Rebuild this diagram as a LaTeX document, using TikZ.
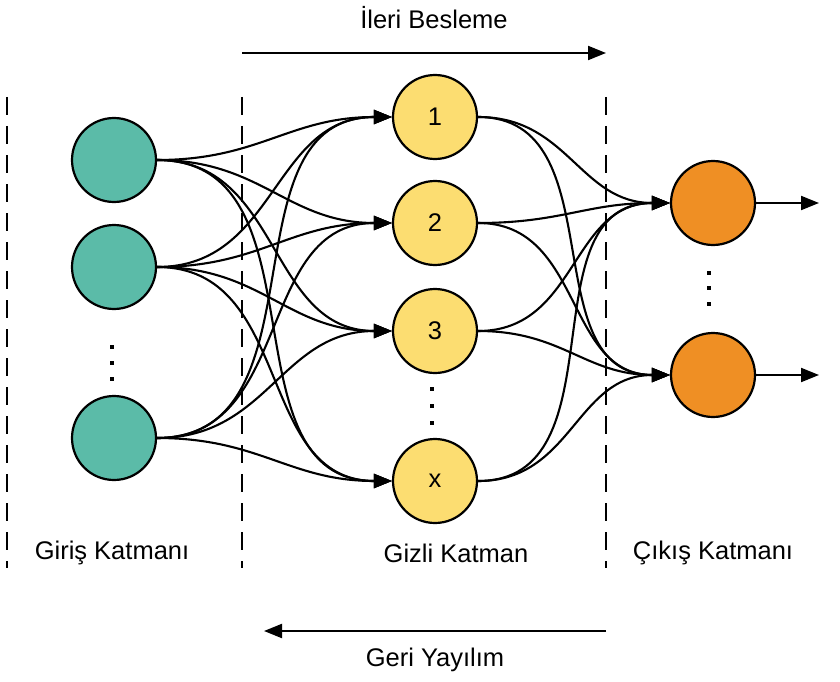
\documentclass[tikz,border=0pt]{standalone}
\usepackage{fontspec}
\setmainfont{Liberation Sans}
\usetikzlibrary{arrows.meta}
\definecolor{inC}{HTML}{5BBBA8}
\definecolor{hidC}{HTML}{FCDD71}
\definecolor{outC}{HTML}{EF8F24}
\begin{document}
\begin{tikzpicture}[x=1pt,y=-1pt,
  every node/.style={font=\fontsize{25.5}{30}\selectfont},
  neuron/.style={circle,draw=black,line width=2.2pt,minimum size=84pt,inner sep=0pt},
  inN/.style={neuron,fill=inC},
  hidN/.style={neuron,fill=hidC},
  outN/.style={neuron,fill=outC},
  conn/.style={line width=2.1pt,-{Triangle[length=18pt,width=14pt]}},
  sep/.style={line width=2pt,dash pattern=on 18pt off 11pt},
  dotsq/.style={fill=black}
]
\useasboundingbox (0,0) rectangle (840,682);

% separators
\draw[sep] (7,97) -- (7,568);
\draw[sep] (242,97) -- (242,568);
\draw[sep] (606,97) -- (606,568);

% nodes
\node[inN] (i1) at (114,160) {};
\node[inN] (i2) at (114,267) {};
\node[inN] (i3) at (114,438) {};
\node[hidN] (h1) at (435,117) {1};
\node[hidN] (h2) at (435,223) {2};
\node[hidN] (h3) at (435,331) {3};
\node[hidN] (h4) at (435,481) {x};
\node[outN] (o1) at (713,203) {};
\node[outN] (o2) at (713,375) {};

% connectors
\foreach \i in {i1,i2,i3}
  \foreach \h in {h1,h2,h3,h4}
    \draw[conn] (\i.east) to[out=0,in=180,looseness=1.1] (\h.west);
\foreach \h in {h1,h2,h3,h4}
  \foreach \o in {o1,o2}
    \draw[conn] (\h.east) to[out=0,in=180,looseness=1.1] (\o.west);

\coordinate (e1) at (819,203);
\coordinate (e2) at (819,375);
\draw[conn] (o1.east) -- (e1);
\draw[conn] (o2.east) -- (e2);

% dots
\foreach \y in {347,363,379} \fill[dotsq] (110,\y-2.2) rectangle (114.4,\y+2.2);
\foreach \y in {389,406,423} \fill[dotsq] (430,\y-2.2) rectangle (434.4,\y+2.2);
\foreach \y in {273,288,304} \fill[dotsq] (707,\y-2.2) rectangle (711.4,\y+2.2);

% direction arrows
\coordinate (fa) at (242,53);
\coordinate (fb) at (606,53);
\coordinate (ba) at (606,631);
\coordinate (bb) at (264,631);
\draw[conn] (fa) -- (fb);
\draw[conn] (ba) -- (bb);

% labels
\node (lf) at (434,18) {İleri Besleme};
\node (lb) at (435,660) {Geri Yayılım};
\node (li) at (112,553) {Giriş Katmanı};
\node (lh) at (456,553) {Gizli Katman};
\node (lo) at (713,553) {Çıkış Katmanı};
\end{tikzpicture}
\end{document}
